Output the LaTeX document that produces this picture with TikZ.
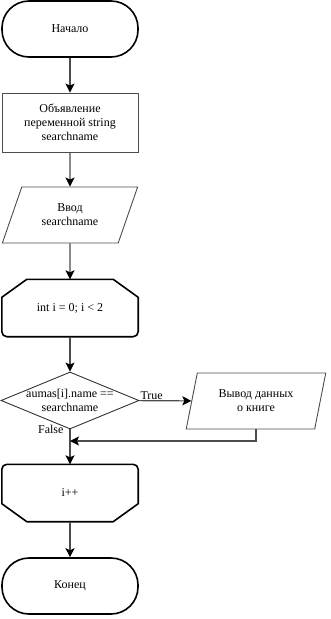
\documentclass[tikz,border=0pt]{standalone}
\usepackage{fontspec}
\setmainfont{Liberation Serif}
\usetikzlibrary{arrows.meta,shapes.geometric,positioning,calc}

\begin{document}
\begin{tikzpicture}[x=1pt, y=-1pt,
    every node/.style={font=\fontsize{12}{14}\selectfont},
    term/.style={draw, line width=1.6pt, rounded corners=27pt, minimum width=136pt, minimum height=56pt, align=center},
    proc/.style={draw=black!70, line width=0.9pt, minimum width=136pt, minimum height=59pt, align=center},
    io/.style={draw=black!70, line width=0.9pt, trapezium, trapezium stretches=true, minimum height=56pt, align=center},
    cond/.style={draw=black!80, line width=0.9pt, diamond, minimum width=138pt, minimum height=57pt, inner sep=0pt},
    lim/.style={minimum width=136pt, minimum height=57pt, align=center},
    limline/.style={line width=1.6pt, line join=round},
    arr/.style={-{Stealth[length=9pt, width=9pt, inset=2pt, black]}, line width=1.1pt, draw=black!70},
    lbl/.style={inner sep=1pt}
]
\useasboundingbox (0,0) rectangle (331,619);

\node[term] (start) at (70,29) {Начало};
\node[proc] (decl) at (70,122.5) {Объявление\\переменной string\\searchname};
\node[io, trapezium left angle=66, trapezium right angle=114, minimum width=136pt] (inp) at (70,215) {Ввод\\searchname};
\node[lim] (loop) at (70,308) {int i = 0; i < 2};
\node[cond] (check) at (70,400.5) {};
\node[align=center, inner sep=0pt] (checktxt) at (check) {aumas[i].name ==\\searchname};
\node[io, trapezium left angle=75, trapezium right angle=105, minimum width=140pt] (show) at (256,401) {Вывод данных\\о книге};
\node[lim] (lend) at (70,493) {i++};
\node[term] (stop) at (70,586) {Конец};
\coordinate (join) at (70,441);

% loop limit outlines
\draw[limline] ([xshift=25pt]loop.north west) -- ([xshift=-25pt]loop.north east)
  -- ([yshift=-18pt]loop.north east) [rounded corners=5pt] -- (loop.south east)
  -- (loop.south west) [sharp corners] -- ([yshift=-18pt]loop.north west) -- cycle;
\draw[limline] ([xshift=25pt]lend.south west) -- ([xshift=-25pt]lend.south east)
  -- ([yshift=18pt]lend.south east) [rounded corners=5pt] -- (lend.north east)
  -- (lend.north west) [sharp corners] -- ([yshift=18pt]lend.south west) -- cycle;

\draw[arr] (start) -- (decl);
\draw[arr] (decl) -- (inp);
\draw[arr] (inp) -- (loop);
\draw[arr] (loop) -- (check);
\draw[arr] (check) -- node[lbl, pos=0, anchor=south west] {True} (show);
\draw[arr] (check) -- node[lbl, pos=0, left=5pt] {False} (lend);
\draw[arr] (show.center |- show.south) |- (join);
\draw[arr] (lend) -- (stop);
\end{tikzpicture}
\end{document}
